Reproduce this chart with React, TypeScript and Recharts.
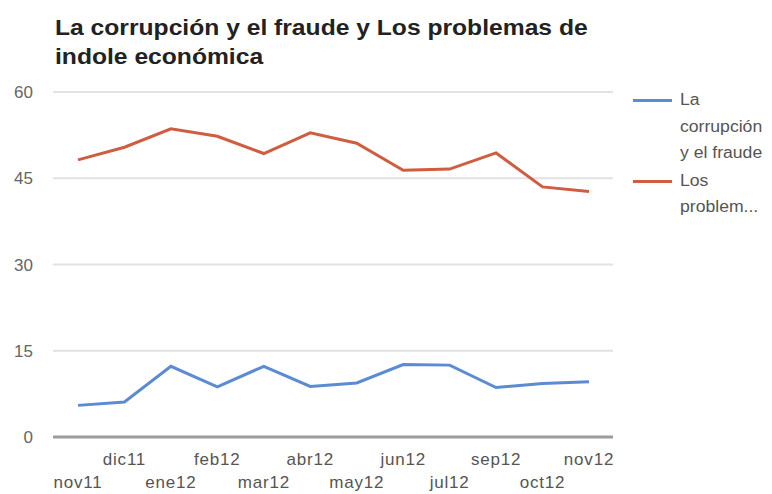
import React from 'react'
import { LineChart, Line, CartesianGrid, XAxis, YAxis } from 'recharts'

const months = ['nov11', 'dic11', 'ene12', 'feb12', 'mar12', 'abr12', 'may12', 'jun12', 'jul12', 'sep12', 'oct12', 'nov12']
const corrupcion = [5.5, 6.1, 12.3, 8.7, 12.3, 8.8, 9.4, 12.6, 12.5, 8.6, 9.3, 9.6]
const problemas = [48.2, 50.4, 53.6, 52.3, 49.3, 52.9, 51.1, 46.4, 46.6, 49.4, 43.5, 42.7]
const yTicks = [0, 15, 30, 45, 60]

const series = [
  { key: 'corrupcion', name: ['La', 'corrupción', 'y el fraude'], color: '#5b8bd2' },
  { key: 'problemas', name: ['Los', 'problem...'], color: '#cf5d40' },
]

const data = months.map((m, i) => ({
  month: m,
  corrupcion: corrupcion[i],
  problemas: problemas[i],
}))

const font = '"Liberation Sans", Arial, sans-serif'

// ticks alternan entre dos filas
function MonthTick({ x, y, payload, index }: any) {
  const dy = index % 2 === 0 ? 43 : 20
  return (
    <text x={x} y={y + dy} textAnchor="middle" fill="#555" fontSize={17} letterSpacing={0.8} fontFamily={font}>
      {payload.value}
    </text>
  )
}

export default function App() {
  return (
    <div style={{ position: 'absolute', left: 0, top: 0, width: 772, height: 494, background: '#fff', fontFamily: font }}>
      <div
        style={{
          position: 'absolute',
          left: 55,
          top: 13,
          fontSize: 22,
          fontWeight: 700,
          lineHeight: '29px',
          color: '#222',
          width: 600,
          whiteSpace: 'nowrap',
          transform: 'scaleX(1.12)',
          transformOrigin: 'left top',
        }}
      >
        La corrupción y el fraude y Los problemas de
        <br />
        indole económica
      </div>

      <LineChart width={772} height={494} data={data} margin={{ top: 92, right: 159, bottom: 0, left: 8 }}>
        <CartesianGrid vertical={false} stroke="#e2e2e2" strokeWidth={2} />
        <XAxis
          dataKey="month"
          interval={0}
          padding={{ left: 25, right: 24 }}
          axisLine={{ stroke: '#9c9c9c', strokeWidth: 3 }}
          tickLine={false}
          tick={<MonthTick />}
          height={57}
        />
        <YAxis
          domain={[0, 60]}
          ticks={yTicks}
          width={45}
          axisLine={false}
          tickLine={false}
          tickSize={0}
          tickMargin={20}
          tick={{ fill: '#666', fontSize: 17, fontFamily: font }}
        />
        {series.map((s) => (
          <Line
            key={s.key}
            type="linear"
            dataKey={s.key}
            stroke={s.color}
            strokeWidth={3}
            dot={false}
            isAnimationActive={false}
          />
        ))}
      </LineChart>

      <div style={{ position: 'absolute', left: 633, top: 87, fontSize: 16, lineHeight: '26.5px', color: '#555' }}>
        {series.map((s) => (
          <div key={s.key} style={{ display: 'flex', marginBottom: 1 }}>
            <div style={{ width: 39, height: 3, background: s.color, marginTop: 12, marginRight: 8 }} />
            <div style={{ transform: 'scaleX(1.1)', transformOrigin: 'left top', whiteSpace: 'nowrap' }}>
              {s.name.map((n) => (
                <div key={n}>{n}</div>
              ))}
            </div>
          </div>
        ))}
      </div>
    </div>
  )
}
